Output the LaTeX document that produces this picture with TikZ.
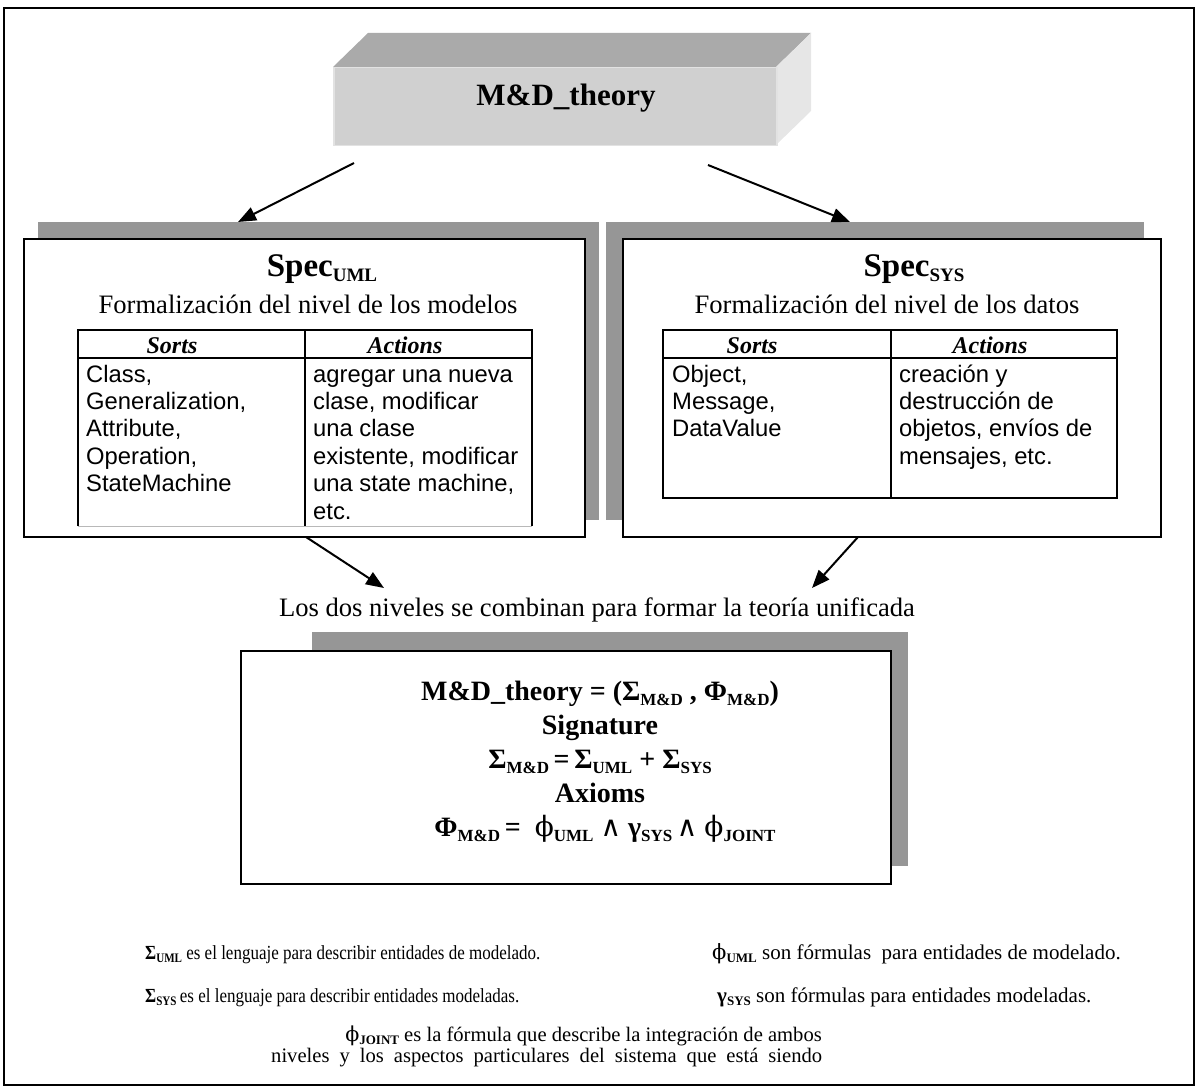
\documentclass[tikz,border=0pt]{standalone}
\usepackage{fontspec}
\setmainfont{Liberation Serif}
\setsansfont{Liberation Sans}
\newfontfamily\grk{DejaVu Serif}
\newfontfamily\legendfont[FakeStretch=0.85]{Liberation Serif}
\usetikzlibrary{arrows.meta}

\definecolor{shadowgray}{HTML}{969696}
\definecolor{blocktopc}{HTML}{AAAAAA}
\definecolor{blockfrontc}{HTML}{D0D0D0}
\definecolor{blocksidec}{HTML}{E6E6E6}
\definecolor{blockedge}{HTML}{E2E2E2}
\definecolor{tablefade}{HTML}{B8B8B8}

% subscripts in the formulas
\newcommand\lowsub[1]{{\fontsize{17}{17}\selectfont\raisebox{-5pt}{#1}}}
\newcommand\specsub[1]{{\fontsize{19}{19}\selectfont\raisebox{-5pt}{#1}}}
\newcommand\legsub[1]{{\fontsize{13}{13}\selectfont\bfseries\raisebox{-3pt}{#1}}}

\tikzset{
  frame/.style={draw=black,line width=2.2pt},
  shade/.style={fill=shadowgray,draw=none,inner sep=0pt},
  panel/.style={draw=black,line width=2pt,fill=white,inner sep=0pt},
  conn/.style={line width=2pt,-{Triangle[length=18pt,width=14pt]}},
  cellline/.style={draw=black,line width=1.6pt},
  specname/.style={font=\bfseries\fontsize{33}{37}\selectfont,anchor=base,inner sep=0pt},
  subtitle/.style={font=\fontsize{26.6}{30}\selectfont,anchor=base,inner sep=0pt},
  colhead/.style={font=\bfseries\itshape\fontsize{24}{27}\selectfont,anchor=base,inner sep=0pt},
  cellbody/.style={font=\sffamily\fontsize{23.8}{27.5}\selectfont,anchor=base west,inner sep=0pt},
  formula/.style={font=\bfseries\fontsize{28}{32}\selectfont,anchor=base,inner sep=0pt},
  legendnarrow/.style={font=\legendfont\fontsize{20}{23}\selectfont,inner sep=0pt},
  legend/.style={font=\fontsize{21}{24}\selectfont,inner sep=0pt},
  legendpara/.style={font=\fontsize{20.6}{23}\selectfont,inner sep=0pt},
}

\begin{document}
\begin{tikzpicture}[x=1pt,y=-1pt]
\useasboundingbox (0,0) rectangle (1195,1086);

% outer frame
\node[frame,minimum width=1190pt,minimum height=1077pt,anchor=north west] (outer) at (2.5,7) {};

% ---- 3D block with the theory name ----
\fill[blocktopc] (333,67) -- (368,33) -- (811,33) -- (776,67) -- cycle;
\fill[blocksidec] (776,67) -- (811,33) -- (811,111) -- (776,145) -- cycle;
\node[fill=blockfrontc,draw=blockedge,line width=1.5pt,minimum width=443pt,minimum height=78pt,anchor=north west,inner sep=0pt] (theory) at (333,67) {};
\node[font=\bfseries\fontsize{31}{35}\selectfont,anchor=base,inner sep=0pt] (theorylbl) at (566,106) {M\&D\_theory};

% ---- left specification panel ----
\node[shade,minimum width=561pt,minimum height=298pt,anchor=north west] (umlshadow) at (38,222) {};
\node[panel,minimum width=561pt,minimum height=298pt,anchor=north west] (uml) at (23,238) {};
\node[specname] (umlname) at (322,277) {Spec\specsub{UML}};
\node[subtitle] (umlsub) at (308,313) {Formalización del nivel de los modelos};

\draw[cellline] (78,526) -- (78,330) -- (532,330) -- (532,526);
\draw[cellline] (78,358) -- (532,358);
\draw[cellline] (305,330) -- (305,526);
\draw[tablefade,line width=1pt] (78,526) -- (532,526);
\node[colhead] (umlsorts) at (172,353) {Sorts};
\node[colhead] (umlactions) at (405,353) {Actions};
\foreach \t [count=\i] in {{Class,},{Generalization,},{Attribute,},{Operation,},{StateMachine}}
  \node[cellbody] (umls\i) at (86,{382+27.4*(\i-1)}) {\t};
\foreach \t [count=\i] in {{agregar una nueva},{clase, modificar},{una clase},{existente, modificar},{una state machine,},{etc.}}
  \node[cellbody] (umla\i) at (313,{382+27.4*(\i-1)}) {\t};

% ---- right specification panel ----
\node[shade,minimum width=538pt,minimum height=298pt,anchor=north west] (sysshadow) at (606,222) {};
\node[panel,minimum width=538pt,minimum height=298pt,anchor=north west] (sys) at (622,238) {};
\node[specname] (sysname) at (914,277) {Spec\specsub{SYS}};
\node[subtitle] (syssub) at (887,313) {Formalización del nivel de los datos};

\draw[cellline] (663,330) rectangle (1117,498);
\draw[cellline] (663,358) -- (1117,358);
\draw[cellline] (891,330) -- (891,498);
\node[colhead] (syssorts) at (752,353) {Sorts};
\node[colhead] (sysactions) at (990,353) {Actions};
\foreach \t [count=\i] in {{Object,},{Message,},{DataValue}}
  \node[cellbody] (syss\i) at (672,{382+27.4*(\i-1)}) {\t};
\foreach \t [count=\i] in {{creación y},{destrucción de},{objetos, envíos de},{mensajes, etc.}}
  \node[cellbody] (sysa\i) at (899,{382+27.4*(\i-1)}) {\t};

% ---- arrows ----
\coordinate (topL) at (354,163);
\coordinate (topR) at (708,165);
\coordinate (umlIn) at (238,222);
\coordinate (sysIn) at (850,222);
\coordinate (umlOut) at (306,537);
\coordinate (sysOut) at (858,537);
\coordinate (joinL) at (384,588);
\coordinate (joinR) at (812,588);
\draw[conn] (topL) -- (umlIn);
\draw[conn] (topR) -- (sysIn);
\draw[conn] (umlOut) -- (joinL);
\draw[conn] (sysOut) -- (joinR);

\node[subtitle] (joinlbl) at (597,616) {Los dos niveles se combinan para formar la teoría unificada};

% ---- unified theory panel ----
\node[shade,minimum width=596pt,minimum height=234pt,anchor=north west] (mdshadow) at (312,632) {};
\node[panel,minimum width=650pt,minimum height=233pt,anchor=north west] (md) at (240,650) {};
\node[formula] (mdl1) at (600,700) {M\&D\_theory = (Σ\lowsub{M\&D} , Φ\lowsub{M\&D})};
\node[formula] (mdl2) at (600,734) {Signature};
\node[formula] (mdl3) at (600,768) {Σ\lowsub{M\&D}\,=\,Σ\lowsub{UML} + Σ\lowsub{SYS}};
\node[formula] (mdl4) at (600,802) {Axioms};
\node[formula] (mdl5) at (605,836) {Φ\lowsub{M\&D}\,= \ {\grk\mdseries ϕ}\lowsub{UML} {\grk\mdseries ∧} γ\lowsub{SYS}\,{\grk\mdseries ∧} {\grk\mdseries ϕ}\lowsub{JOINT}};

% ---- legend ----
\node[legendnarrow,anchor=base west] (legA) at (145,959) {{\bfseries Σ}\legsub{UML} es el lenguaje para describir entidades de modelado.};
\node[legendnarrow,anchor=base west] (legB) at (145,1002) {{\bfseries Σ}\legsub{SYS}\,es el lenguaje para describir entidades modeladas.};
\node[legend,anchor=base west] (legC) at (712,959) {{\grk ϕ}\legsub{UML} son fórmulas \ para entidades de modelado.};
\node[legend,anchor=base west] (legD) at (717,1002) {{\bfseries γ}\legsub{SYS} son fórmulas para entidades modeladas.};
\node[legendpara,anchor=base east] (legE) at (822,1041) {{\grk ϕ}\legsub{JOINT} es la fórmula que describe la integración de ambos};
\node[legendpara,anchor=base west] (legF) at (271,1062) {\makebox[551pt][s]{niveles y los aspectos particulares del sistema que está siendo}};
\end{tikzpicture}
\end{document}
